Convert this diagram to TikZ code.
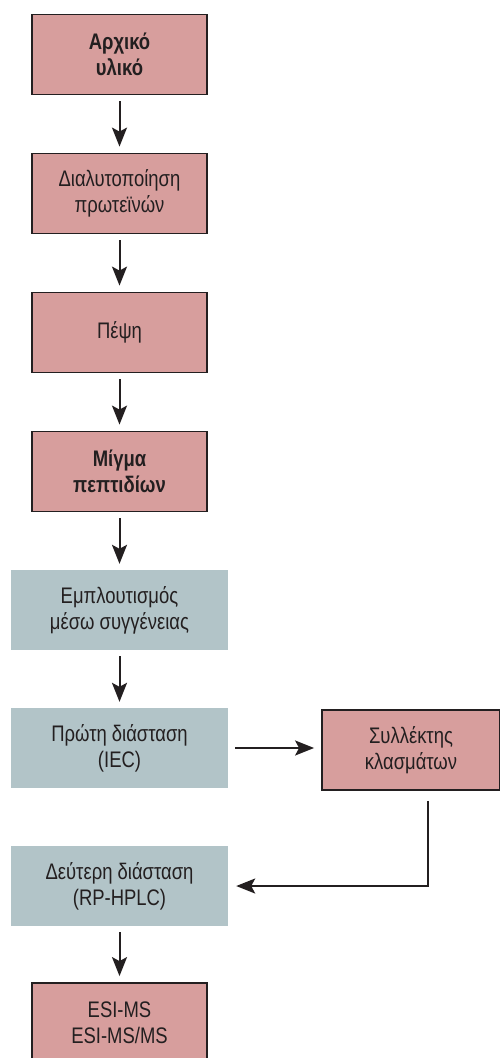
\documentclass[tikz,border=0pt]{standalone}
\usepackage{fontspec}
\setmainfont{Liberation Sans}[FakeStretch=0.82]
\usetikzlibrary{arrows.meta}
\definecolor{pinkbox}{RGB}{215,158,157}
\definecolor{bluebox}{RGB}{178,196,200}
\definecolor{inkcol}{RGB}{35,31,32}
\begin{document}
\begin{tikzpicture}[x=1pt,y=-1pt,
  txt/.style={align=center,font=\fontsize{22.5}{26}\selectfont,text=inkcol,inner sep=0pt},
  pinkstep/.style={txt,fill=pinkbox,draw=inkcol,line width=1.8pt,minimum width=175pt,minimum height=80pt},
  bluestep/.style={txt,fill=bluebox,minimum width=217pt,minimum height=80pt},
  arr/.style={line width=2pt,draw=inkcol,-{Stealth[length=19pt,width=15pt,inset=4pt]}}]
\useasboundingbox (0,0) rectangle (500,1058);
\node[pinkstep,font=\fontsize{22.5}{26}\selectfont\bfseries] (b1) at (119.5,54.5) {Αρχικό\\υλικό};
\node[pinkstep] (b2) at (119.5,193.5) {Διαλυτοποίηση\\πρωτεϊνών};
\node[pinkstep] (b3) at (119.5,332.5) {Πέψη};
\node[pinkstep,font=\fontsize{22.5}{26}\selectfont\bfseries] (b4) at (119.5,471.5) {Μίγμα\\πεπτιδίων};
\node[bluestep] (c1) at (119.5,610) {Εμπλουτισμός\\μέσω συγγένειας};
\node[bluestep] (c2) at (119.5,748) {Πρώτη διάσταση\\(IEC)};
\node[pinkstep,minimum width=178pt] (fc) at (411,750) {Συλλέκτης\\κλασμάτων};
\node[bluestep] (c3) at (119.5,886) {Δεύτερη διάσταση\\(RP-HPLC)};
\node[pinkstep] (b5) at (119.5,1023) {ESI-MS\\ESI-MS/MS};
\foreach \a/\b in {b1/b2,b2/b3,b3/b4,b4/c1,c1/c2,c3/b5}
  \draw[arr] ([yshift=-6pt]\a.south) -- ([yshift=6pt]\b.north);
\draw[arr] ([xshift=7pt]c2.east) -- ([xshift=-7pt]c2.east -| fc.west);
\draw[arr] ([xshift=17pt,yshift=-10pt]fc.south) |- ([xshift=8pt]c3.east);
\end{tikzpicture}
\end{document}
